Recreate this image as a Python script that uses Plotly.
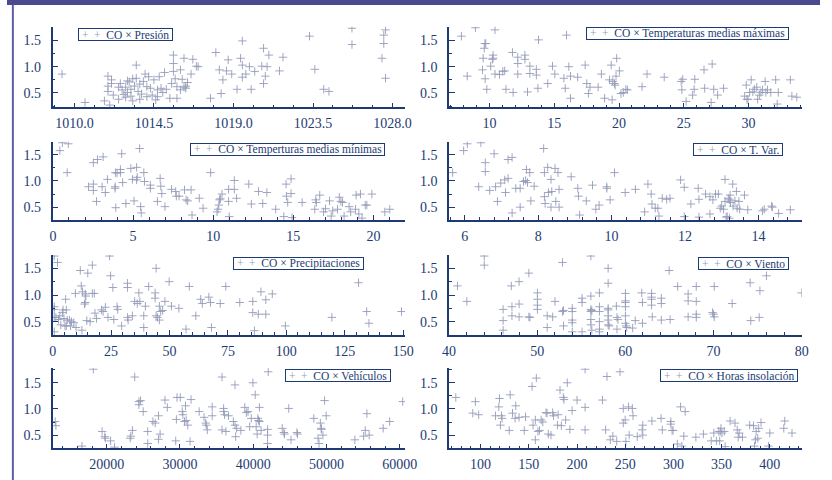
import plotly.graph_objects as go

# ---------------- data ----------------
presion = [1009.3,1010.6,1011.7,1011.9,1011.9,1011.9,1012.1,1012.1,1012.0,1012.2,1012.5,1012.5,1012.6,1012.7,1012.8,1012.9,1012.9,1013.0,1013.0,1013.1,1013.2,1013.2,1013.3,1013.3,1013.4,1013.5,1013.5,1013.6,1013.7,1013.7,1013.8,1013.9,1014.0,1014.1,1014.1,1014.2,1014.3,1014.4,1014.5,1014.6,1014.7,1014.7,1014.8,1014.9,1015.0,1015.1,1015.2,1015.4,1015.5,1015.7,1015.8,1016.0,1016.2,1016.3,1015.6,1015.6,1015.6,1015.8,1016.0,1016.1,1016.2,1016.3,1016.4,1016.6,1016.7,1016.9,1017.0,1017.7,1018.0,1018.2,1018.3,1018.4,1018.6,1018.7,1018.9,1019.2,1019.4,1019.5,1019.5,1019.5,1019.7,1019.9,1020.0,1020.2,1020.6,1020.7,1020.7,1020.8,1020.9,1021.0,1021.6,1021.8,1023.3,1023.6,1024.1,1024.4,1025.7,1025.7,1027.4,1027.5,1027.5,1027.6,1027.6]
co_presion = [0.86,0.32,0.35,0.82,0.63,0.53,0.75,0.68,0.27,0.46,0.61,0.38,0.68,0.56,0.47,0.61,0.42,0.73,0.51,0.71,0.57,0.44,0.77,0.35,0.63,1.03,0.78,0.53,0.38,0.67,0.48,0.72,0.86,0.62,0.43,0.81,0.59,0.46,0.75,0.37,0.56,0.43,0.81,0.59,0.51,0.89,0.57,0.40,0.68,0.77,0.62,0.56,0.61,0.63,1.22,1.06,0.91,0.40,0.94,0.76,1.16,0.59,0.70,0.86,1.14,1.01,1.00,0.40,1.27,0.94,0.49,0.75,0.92,1.13,0.86,0.57,1.16,0.80,1.49,1.03,0.86,1.00,0.57,0.91,1.01,1.35,0.68,0.82,1.00,1.22,0.92,1.18,1.58,0.95,0.57,0.53,1.73,1.42,1.16,1.60,1.44,1.70,0.78]

temp_max = [7.84,8.29,8.92,9.47,9.52,9.60,9.65,9.67,9.72,9.80,10.10,10.23,10.28,10.28,10.43,10.43,10.78,11.03,11.18,11.28,11.78,11.83,12.19,12.19,12.19,12.74,12.74,12.94,13.12,13.12,13.62,13.62,13.74,13.79,14.50,14.87,15.05,15.75,15.85,15.95,16.13,16.26,16.26,16.81,17.39,17.51,17.64,17.76,18.39,18.64,18.89,19.27,19.40,19.47,19.52,19.65,19.70,19.77,19.82,20.03,20.15,20.33,20.53,20.65,21.78,22.16,23.49,24.80,24.85,24.92,25.18,25.68,25.80,25.85,26.56,26.61,27.19,27.11,27.31,27.61,28.07,29.70,29.82,29.87,29.95,30.08,30.20,30.33,30.45,30.63,30.70,30.83,30.95,31.08,31.28,31.33,31.46,31.71,32.09,32.21,32.29,33.22,33.34,33.72]
co_temp_max = [1.58,0.82,1.74,0.94,1.16,1.35,1.44,0.77,1.44,0.57,1.01,1.14,1.22,1.16,1.70,0.86,0.85,0.91,0.92,0.57,1.27,0.51,1.18,1.06,0.86,1.22,1.14,0.52,1.01,0.87,0.95,0.84,0.59,1.51,0.68,1.01,0.86,0.78,0.59,1.60,1.00,0.40,0.82,0.80,1.03,0.68,0.49,0.61,0.61,0.86,0.40,0.75,1.03,0.37,0.72,0.68,0.65,0.82,1.16,0.92,0.49,0.51,0.57,0.56,0.62,0.86,0.80,0.72,0.56,0.76,0.34,0.46,0.57,0.76,0.94,0.59,1.05,0.32,0.57,0.46,0.59,0.44,0.65,0.38,0.38,0.51,0.75,0.52,0.57,0.61,0.38,0.46,0.51,0.56,0.72,0.51,0.56,0.51,0.75,0.29,0.51,0.75,0.44,0.42]

temp_min = [0.43,0.59,0.96,0.89,2.22,2.52,2.52,2.52,2.72,2.78,3.07,3.13,3.27,3.40,3.88,3.88,3.90,3.92,4.00,4.21,4.21,4.29,4.35,4.55,4.86,4.96,5.06,5.22,5.22,5.26,5.41,5.47,5.51,5.67,5.71,6.08,6.08,6.52,6.69,6.73,6.79,6.99,7.40,7.66,7.70,7.87,8.21,8.31,8.41,8.62,8.68,9.13,9.37,9.84,10.24,10.30,10.35,10.39,10.45,10.55,10.96,10.96,11.00,11.32,11.32,11.46,12.22,12.38,12.83,13.09,13.35,13.90,14.41,14.55,14.57,14.65,14.86,14.86,14.92,15.55,16.34,16.40,16.44,16.65,16.89,17.01,17.26,17.36,17.46,17.76,17.87,17.97,18.07,18.17,18.48,18.58,18.88,18.92,19.09,19.19,19.29,19.49,19.59,19.90,20.71,21.02]
co_temp_min = [1.58,1.73,1.71,1.16,0.89,0.94,0.82,1.35,0.61,1.41,0.89,1.46,0.78,1.03,0.89,0.86,1.16,0.49,1.15,1.22,1.16,1.52,0.97,0.57,1.24,1.03,0.62,1.26,1.02,1.07,1.62,0.51,0.39,1.16,0.99,0.92,0.86,0.61,1.05,0.90,0.76,0.51,0.84,0.80,0.71,0.71,0.83,0.64,0.62,0.83,0.35,0.67,0.48,1.16,0.41,0.46,0.54,0.64,0.66,0.75,0.84,0.61,0.32,1.01,0.84,0.67,0.94,0.56,0.80,0.57,0.78,0.46,0.32,0.94,0.71,0.59,1.04,0.76,0.30,0.59,0.46,0.64,0.59,0.73,0.41,0.47,0.62,0.33,0.43,0.46,0.69,0.61,0.59,0.33,0.51,0.41,0.46,0.73,0.37,0.75,0.29,0.54,0.54,0.75,0.41,0.46]

t_var = [5.67,5.97,6.07,6.38,6.44,6.56,6.56,6.68,6.80,6.84,6.89,6.98,7.09,7.11,7.18,7.18,7.29,7.29,7.39,7.51,7.51,7.60,7.66,7.68,7.71,7.77,7.80,7.89,8.15,8.17,8.17,8.19,8.26,8.28,8.35,8.35,8.37,8.46,8.48,8.54,8.57,8.57,8.90,9.08,9.10,9.13,9.31,9.48,9.57,9.66,9.87,9.87,9.96,10.08,10.37,10.65,10.90,10.99,11.08,11.10,11.19,11.26,11.29,11.38,11.50,11.59,11.88,11.98,11.98,12.16,12.36,12.38,12.38,12.56,12.68,12.68,12.76,12.83,12.91,12.96,13.00,13.05,13.09,13.09,13.12,13.15,13.18,13.21,13.21,13.23,13.24,13.30,13.31,13.36,13.40,13.42,13.47,13.49,13.62,13.71,14.11,14.16,14.36,14.38,14.55,14.87]
co_t_var = [1.16,1.58,1.71,0.89,1.73,1.35,1.18,0.82,1.52,0.89,0.61,0.96,1.02,0.78,1.41,1.05,1.45,0.39,0.86,0.86,0.50,0.99,1.01,1.22,0.97,1.16,0.62,0.90,1.62,1.16,0.70,0.57,1.26,0.78,1.03,0.50,0.80,1.24,0.61,1.16,0.84,0.50,1.08,0.86,0.71,0.35,0.62,0.92,0.46,0.54,0.89,0.86,0.64,1.16,0.78,0.84,0.41,0.94,0.75,0.56,0.48,0.48,0.33,0.67,0.65,0.67,1.02,0.88,0.32,0.56,0.86,0.65,0.31,0.75,0.37,0.70,0.64,0.75,0.75,0.48,0.52,0.46,1.03,0.61,0.31,0.32,0.67,0.64,0.29,0.73,0.59,0.94,0.52,0.62,0.80,0.48,0.61,0.46,0.73,0.45,0.43,0.46,0.52,0.50,0.38,0.45]

precipitaciones = [0.70,0.70,0.70,0.70,0.70,1.39,2.09,2.51,3.06,3.48,4.18,4.46,4.87,5.29,5.57,5.85,5.85,6.27,7.24,7.66,8.08,9.05,9.75,10.03,11.84,12.26,12.53,12.81,13.65,13.93,13.93,14.21,14.62,15.04,16.02,16.99,16.99,17.83,18.11,18.80,20.89,21.59,22.56,23.68,24.37,24.79,25.77,26.18,27.58,27.86,29.53,32.03,32.03,32.03,32.31,34.12,35.10,36.21,36.91,37.33,39.00,39.00,39.69,41.09,43.87,43.87,44.29,44.29,44.85,45.68,45.68,46.24,47.08,48.05,49.86,50.84,54.04,57.10,58.50,61.28,63.37,64.07,66.85,67.55,67.97,71.73,74.09,80.08,85.65,85.65,86.35,88.02,89.14,91.23,91.23,94.01,99.58,119.50,130.92,134.40,135.38,149.30]
co_precipitaciones = [1.73,0.78,0.73,0.58,0.31,0.58,1.61,0.54,0.61,0.44,0.67,0.72,0.56,0.42,0.92,0.72,0.42,0.53,0.53,0.42,0.50,0.48,1.03,0.39,1.46,1.17,0.34,1.06,0.83,1.02,0.86,0.98,0.52,1.41,0.50,1.03,1.56,1.03,0.66,0.56,0.72,0.69,0.77,0.58,1.73,1.36,1.14,0.54,0.78,0.73,0.42,0.58,1.22,1.14,0.53,0.61,0.88,0.84,1.04,0.88,0.39,0.61,0.79,1.16,1.04,0.94,1.50,0.61,0.58,0.53,0.79,0.69,0.71,0.88,1.25,0.79,0.75,0.36,1.16,0.61,0.92,0.84,0.96,0.86,0.39,0.84,1.16,0.86,0.88,0.67,0.33,0.64,1.06,0.91,0.64,1.02,0.42,0.58,1.23,0.69,0.47,0.69]

viento = [40.96,42.03,44.00,44.00,46.14,46.14,46.14,47.07,47.14,47.14,47.95,47.95,47.95,49.06,49.06,49.18,50.03,50.03,50.03,50.03,51.14,51.14,51.76,52.02,52.87,52.87,52.99,52.99,53.98,53.98,53.98,53.98,53.98,55.09,55.09,55.09,56.09,56.09,56.09,56.09,56.09,56.09,56.20,56.20,57.06,57.06,57.06,57.06,57.06,57.06,58.05,58.05,58.05,58.05,58.05,58.05,58.05,58.16,58.98,59.05,59.05,59.16,60.01,60.01,60.01,60.01,60.01,60.01,60.09,60.16,60.83,61.12,61.86,61.94,61.94,62.97,62.97,62.97,62.97,63.05,64.08,64.08,64.08,64.97,65.08,65.93,67.12,67.12,67.12,68.04,68.04,68.04,68.04,69.89,70.00,70.08,70.08,72.11,74.15,74.22,75.26,75.18,76.00,79.99]
co_viento = [1.17,0.88,1.73,1.56,0.73,0.52,0.34,1.17,0.78,0.61,1.25,0.83,0.59,1.41,0.59,0.58,1.04,0.92,0.81,0.73,0.39,0.61,0.59,0.88,1.61,0.69,0.42,0.71,0.75,0.69,0.53,0.48,0.31,0.94,0.86,0.31,0.98,1.73,0.73,0.69,0.54,0.44,0.34,0.71,1.04,0.78,0.69,0.50,0.36,0.31,1.50,1.22,0.75,0.72,0.61,0.53,0.44,0.42,0.79,0.58,0.36,0.54,1.03,0.89,0.86,0.78,0.61,0.47,0.42,0.39,0.38,0.52,1.04,0.86,0.47,1.03,0.96,0.92,0.81,0.59,0.94,0.84,0.53,1.46,0.54,1.16,1.02,0.89,0.59,1.16,0.88,0.64,0.58,0.67,0.64,0.59,1.16,0.84,1.23,0.52,1.08,0.58,1.36,1.04]

vehiculos = [13067,12978,16622,18178,19378,19733,19822,20533,21067,23200,23289,23511,23822,24400,24400,24622,24978,25600,25600,26311,26622,27067,27067,27289,27956,28267,29422,29511,29600,30044,30311,30400,30622,30756,30844,31067,31378,31511,32622,33289,33511,33600,33733,34400,34400,35733,35733,35956,35956,36089,36267,36622,37511,37289,37511,37600,37733,38311,38844,39067,39289,39511,39733,39956,40267,40400,40533,40622,40711,40844,40844,41067,41956,41956,41956,42044,44844,43956,44178,44267,45156,45956,46044,48267,48844,48978,49289,49156,49289,49511,49733,49956,53867,55067,55289,55511,55822,57733,58622,60400]
co_vehiculos = [0.68,0.76,0.29,1.76,0.57,0.47,0.44,0.39,0.27,0.44,0.48,0.59,1.61,1.08,1.14,1.16,0.95,0.57,0.34,0.76,0.73,0.42,0.87,0.52,1.17,1.03,0.39,0.80,1.22,1.22,0.95,0.89,0.76,1.06,0.78,0.69,0.38,1.18,0.95,0.84,0.73,0.69,0.60,1.04,0.87,1.61,0.60,1.01,0.95,0.89,0.57,0.87,1.46,0.76,0.69,0.47,0.63,0.59,1.03,0.93,0.95,0.66,0.82,1.50,1.27,0.66,0.52,0.82,0.78,0.76,1.03,0.59,0.61,0.50,0.34,1.71,1.01,0.63,0.55,0.52,0.41,0.55,0.52,0.82,0.44,0.34,0.63,0.73,0.61,0.50,1.16,0.87,0.41,0.48,0.59,0.91,0.50,0.63,0.76,1.14]

horas_insolacion = [74.3,91.9,94.6,98.0,115.5,118.9,119.6,120.6,121.6,122.3,130.7,129.7,133.1,135.8,136.5,139.9,145.3,146.6,153.4,154.4,156.8,156.8,157.8,159.5,161.1,162.8,164.5,167.9,168.9,170.3,173.0,174.7,175.7,179.7,180.4,182.4,183.8,185.8,186.5,188.2,189.9,192.6,194.9,200.0,208.4,208.4,208.4,226.4,229.7,231.1,234.5,237.2,241.2,244.6,248.0,248.0,250.0,250.7,253.4,254.1,257.4,258.1,262.5,267.6,268.2,268.2,277.7,287.2,288.5,297.3,297.3,298.6,299.7,304.1,307.4,308.8,310.8,312.2,323.3,331.1,339.2,341.9,344.6,347.0,348.0,348.6,349.3,350.3,352.7,353.7,358.8,363.9,366.2,367.2,368.2,371.6,379.1,383.1,384.1,385.1,385.8,387.5,388.5,390.9,398.6,400.0,414.5,415.5,423.0]
co_horas_insolacion = [1.22,0.92,1.14,0.89,0.87,1.04,1.20,0.69,0.87,0.82,1.27,0.59,0.92,0.82,1.06,0.84,0.59,0.85,1.43,0.69,0.79,0.41,1.59,0.57,0.59,0.79,0.75,0.93,0.92,0.52,0.50,0.93,0.87,0.69,0.89,1.36,0.68,1.22,1.18,0.79,1.50,0.61,0.97,1.17,1.76,1.03,0.60,1.17,0.60,1.62,0.41,0.48,0.38,1.71,1.01,0.73,0.79,0.38,1.04,0.50,1.01,0.87,0.47,0.60,0.69,0.50,0.77,0.82,0.60,0.76,0.71,0.59,0.59,0.33,1.04,0.29,0.48,0.95,0.46,0.52,0.39,0.54,0.39,0.57,0.39,0.57,0.63,0.54,0.57,0.28,0.77,0.73,0.60,0.46,0.54,0.46,0.69,0.68,0.29,0.41,0.57,0.44,0.63,0.74,0.29,0.54,0.63,0.77,0.54]

labels = ["CO × Presión", "CO × Temperaturas medias máximas",
          "CO × Temperturas medias mínimas", "CO × T. Var.",
          "CO × Precipitaciones", "CO × Viento",
          "CO × Vehículos", "CO × Horas insolación"]

# ---------------- styling ----------------
NAVY = "#1d3b72"
MARK = "#959cb9"
FONT = "Liberation Serif"
W, H = 832, 480

series = [(presion, co_presion), (temp_max, co_temp_max), (temp_min, co_temp_min),
          (t_var, co_t_var), (precipitaciones, co_precipitaciones), (viento, co_viento),
          (vehiculos, co_vehiculos), (horas_insolacion, co_horas_insolacion)]

col_px = [(46.7, 407.3), (452.3, 813.3)]
row_px = [(26.7, 107.3), (141.7, 220.0), (255.0, 335.0), (368.3, 448.3)]
y_ranges = [[0.228, 1.76], [0.255, 1.75], [0.25, 1.75], [0.248, 1.777]]
x_ranges = [[1008.77, 1028.7], [6.88, 34.1], [-0.02, 21.97], [5.57, 15.18],
            [0, 150.8], [40, 80.0], [12622, 60711], [67.2, 433.1]]
x_ticks = [(1010, 4.5, 1.125, ".1f"), (10, 5, 1, "d"), (0, 5, 1, "d"), (6, 2, 0.4, "d"),
           (0, 25, 5, "d"), (40, 10, 2, "d"), (20000, 10000, 2000, "d"), (100, 50, 10, "d")]
# legend boxes: (anchor, x px, y top px)
leg_pos = [("left", 73, 28), ("right", 800, 27.5), ("right", 386.7, 143.3), ("right", 794, 143.3),
           ("right", 365, 256.7), ("right", 800, 256.7), ("right", 393, 369), ("right", 809, 369)]

fig = go.Figure()
layout = dict(width=W, height=H, margin=dict(l=0, r=0, t=0, b=0),
              paper_bgcolor="white", plot_bgcolor="white", showlegend=False,
              font=dict(family=FONT, color=NAVY, size=13))
annotations = []

for i, (xs, ys) in enumerate(series):
    r, c = divmod(i, 2)
    k = "" if i == 0 else str(i + 1)
    fig.add_trace(go.Scatter(
        x=xs, y=ys, mode="markers", name=labels[i],
        xaxis="x" + k, yaxis="y" + k,
        marker=dict(symbol="cross-thin", size=6, line=dict(width=0.9, color=MARK), color=MARK),
        hoverinfo="x+y"))
    x0, x1 = col_px[c]
    y0, y1 = row_px[r]
    t0, dt, mdt, fmt = x_ticks[i]
    layout["xaxis" + k] = dict(
        domain=[x0 / W, x1 / W], anchor="y" + k, range=x_ranges[i],
        showgrid=False, zeroline=False, showline=True, linecolor=NAVY, linewidth=1.5,
        ticks="inside", ticklen=5, tickwidth=1.2, tickcolor=NAVY,
        tick0=t0, dtick=dt, tickformat=fmt, ticklabelstandoff=2,
        tickfont=dict(family=FONT, size=14, color=NAVY),
        minor=dict(tick0=t0, dtick=mdt, ticks="inside", ticklen=3, tickwidth=1, tickcolor=NAVY))
    layout["yaxis" + k] = dict(
        domain=[1 - y1 / H, 1 - y0 / H], anchor="x" + k, range=y_ranges[r],
        showgrid=False, zeroline=False, showline=True, linecolor=NAVY, linewidth=1.5,
        ticks="inside", ticklen=6, tickwidth=1.2, tickcolor=NAVY,
        tick0=0.5, dtick=0.5, tickformat=".1f", ticklabelstandoff=7,
        tickfont=dict(family=FONT, size=14, color=NAVY),
        minor=dict(tick0=0.5, dtick=0.25, ticks="inside", ticklen=3, tickwidth=1, tickcolor=NAVY))
    anc, lx, ly = leg_pos[i]
    annotations.append(dict(
        xref="paper", yref="paper", x=lx / W, y=1 - ly / H, xanchor=anc, yanchor="top",
        showarrow=False, align="left", height=11, valign="middle",
        text=f'<span style="color:{MARK}">\u00a0+\u00a0\u00a0+\u00a0</span>\u00a0{labels[i]}\u00a0',
        font=dict(family=FONT, size=11.5, color=NAVY),
        bordercolor=NAVY, borderwidth=1, borderpad=0, bgcolor="white"))

layout["annotations"] = annotations
layout["shapes"] = [
    dict(type="rect", xref="paper", yref="paper", x0=0, x1=1, y0=1 - 5 / H, y1=1,
         fillcolor="#4b4a8e", line=dict(width=0)),
    dict(type="rect", xref="paper", yref="paper", x0=5 / W, x1=7 / W, y0=0, y1=1 - 5 / H,
         fillcolor="#5c5aa6", line=dict(width=0)),
]
fig.update_layout(**layout)
fig.write_html("out.html", config={"displayModeBar": False},
               post_script="document.body.style.margin='0';document.body.style.padding='0';")
